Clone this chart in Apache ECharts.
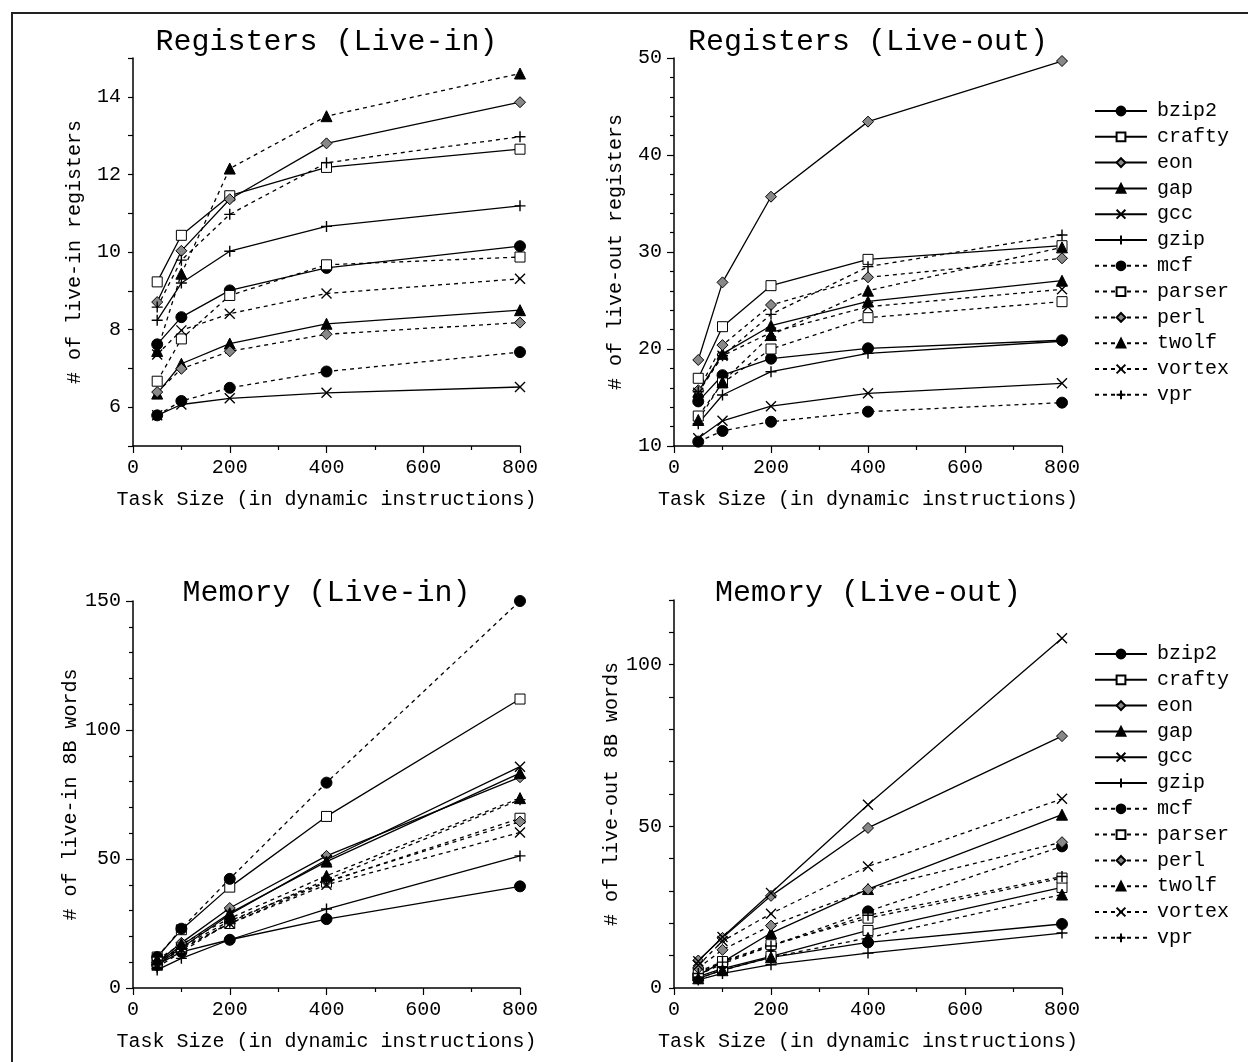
<!DOCTYPE html>
<html>
<head>
<meta charset="utf-8">
<script src="https://cdn.jsdelivr.net/npm/echarts@6/dist/echarts.min.js"></script>
<style>
  html, body { margin: 0; padding: 0; background: #fff; }
  #chart { width: 1248px; height: 1062px; }
</style>
</head>
<body>
<div id="chart"></div>
<script>
// x values (task size)
const taskSizes = [50, 100, 200, 400, 800]
const benchmarks = ['bzip2', 'crafty', 'eon', 'gap', 'gcc', 'gzip', 'mcf', 'parser', 'perl', 'twolf', 'vortex', 'vpr']

// one row per benchmark, same order as above
const regLiveIn = [
  [7.62, 8.32, 9.01, 9.59, 10.15],
  [9.23, 10.43, 11.45, 12.18, 12.65],
  [8.71, 10.03, 11.36, 12.8, 13.86],
  [6.35, 7.12, 7.64, 8.15, 8.5],
  [5.79, 6.07, 6.23, 6.37, 6.52],
  [8.24, 9.2, 10.02, 10.66, 11.19],
  [5.79, 6.16, 6.5, 6.92, 7.42],
  [6.67, 7.76, 8.88, 9.67, 9.87],
  [6.39, 6.99, 7.44, 7.88, 8.18],
  [7.45, 9.44, 12.15, 13.5, 14.6],
  [7.36, 7.98, 8.41, 8.93, 9.31],
  [8.58, 9.79, 10.97, 12.3, 12.97]
]
const regLiveOut = [
  [14.6, 17.3, 19.0, 20.07, 20.9],
  [16.98, 22.3, 26.53, 29.24, 30.65],
  [18.87, 26.87, 35.7, 43.44, 49.69],
  [15.6, 19.5, 22.4, 24.9, 27.04],
  [10.8, 12.6, 14.1, 15.43, 16.46],
  [12.3, 15.26, 17.66, 19.55, 20.8],
  [10.45, 11.55, 12.5, 13.54, 14.47],
  [13.09, 16.5, 20.0, 23.23, 24.88],
  [15.75, 20.4, 24.54, 27.39, 29.35],
  [12.68, 16.6, 21.44, 26.01, 30.48],
  [15.5, 19.3, 21.7, 24.36, 26.15],
  [15.6, 19.3, 23.57, 28.49, 31.75]
]
const memLiveIn = [
  [9, 14, 18.7, 26.7, 39.4],
  [12, 22.6, 39.1, 66.5, 112],
  [10, 17.5, 31, 51.2, 81.7],
  [9.5, 16.5, 29, 49, 83.3],
  [9, 15.5, 28.5, 49.7, 85.8],
  [7, 11.5, 18.7, 30.6, 51.2],
  [12, 23, 42.3, 79.6, 150],
  [10, 15.5, 25, 41, 65.8],
  [10, 16, 26, 41.3, 64.5],
  [11, 17, 27, 43.5, 73.6],
  [9, 15, 25, 40, 60.3],
  [8, 14, 25.5, 42, 73]
]
const memLiveOut = [
  [3, 5.5, 9.5, 14.1, 19.8],
  [3.5, 6, 9.8, 17.8, 31.1],
  [8.5, 15.5, 28.5, 49.5, 77.9],
  [4, 8, 17, 30.6, 53.6],
  [8.3, 15.8, 29.4, 56.7, 108.2],
  [2.5, 4.5, 7.2, 10.8, 17],
  [4, 7.5, 13, 23.7, 43.8],
  [5, 8.2, 13.4, 21.6, 34],
  [6.2, 11.8, 19.3, 30.5, 45.1],
  [3, 5.5, 9.5, 15.5, 28.9],
  [7, 14.5, 23, 37.6, 58.5],
  [4.5, 8, 13, 22.5, 34.5]
]

const FONT = "'Liberation Mono', 'DejaVu Sans Mono', monospace"
const CROSS = 'path://M0,0L10,10M10,0L0,10'
const PLUS = 'path://M5,0L5,10M0,5L10,5'

// marker per benchmark (first six solid, last six dotted)
const markers = [
  { symbol: 'circle', size: 11, fill: '#000' },
  { symbol: 'rect', size: 10, fill: '#fff' },
  { symbol: 'diamond', size: 11, fill: '#888' },
  { symbol: 'triangle', size: 11, fill: '#000' },
  { symbol: CROSS, size: 10, fill: '#000' },
  { symbol: PLUS, size: 11, fill: '#000' }
]

const panels = [
  { data: regLiveIn, left: 133, top: 58, width: 387, height: 388, min: 5, max: 15, interval: 1, labelStep: 2, minor: 0, name: '# of live-in registers' },
  { data: regLiveOut, left: 674, top: 58, width: 388, height: 388, min: 10, max: 50, interval: 10, labelStep: 10, minor: 5, name: '# of live-out registers' },
  { data: memLiveIn, left: 133, top: 601, width: 387, height: 387, min: 0, max: 150, interval: 50, labelStep: 50, minor: 5, name: '# of live-in 8B words' },
  { data: memLiveOut, left: 674, top: 600, width: 388, height: 388, min: 0, max: 120, interval: 10, labelStep: 50, minor: 0, name: '# of live-out 8B words' }
]
const titles = ['Registers (Live-in)', 'Registers (Live-out)', 'Memory (Live-in)', 'Memory (Live-out)']

const axisText = { fontFamily: FONT, fontSize: 20, color: '#000' }

const grid = panels.map(p => ({ left: p.left, top: p.top, width: p.width, height: p.height, containLabel: false }))

const xAxis = panels.map((p, i) => ({
  type: 'value',
  gridIndex: i,
  min: 0,
  max: 800,
  interval: 200,
  name: 'Task Size (in dynamic instructions)',
  nameLocation: 'middle',
  nameGap: 44,
  nameTextStyle: axisText,
  axisLine: { lineStyle: { color: '#000', width: 1.5 } },
  axisTick: { length: 7, lineStyle: { color: '#000', width: 1.2 } },
  minorTick: { show: true, splitNumber: 2, length: 4, lineStyle: { color: '#000', width: 1.2 } },
  axisLabel: { margin: 12, ...axisText },
  splitLine: { show: false }
}))

const yAxis = panels.map((p, i) => ({
  type: 'value',
  gridIndex: i,
  min: p.min,
  max: p.max,
  interval: p.interval,
  name: p.name,
  nameLocation: 'middle',
  nameGap: 48,
  nameTextStyle: axisText,
  axisLine: { show: true, lineStyle: { color: '#000', width: 1.5 } },
  axisTick: { show: true, length: p.minor ? 7 : 5, lineStyle: { color: '#000', width: 1.2 } },
  minorTick: { show: p.minor > 0, splitNumber: p.minor || 5, length: 4, lineStyle: { color: '#000', width: 1.2 } },
  axisLabel: {
    margin: 12,
    ...axisText,
    formatter: v => (Math.round(v) % p.labelStep === 0 && v <= p.max && (p.max % p.labelStep === 0 || v < p.max)) ? String(v) : ''
  },
  splitLine: { show: false }
}))

const series = []
panels.forEach((p, pi) => {
  benchmarks.forEach((name, bi) => {
    const m = markers[bi % 6]
    const dotted = bi >= 6
    series.push({
      type: 'line',
      name: name,
      xAxisIndex: pi,
      yAxisIndex: pi,
      data: taskSizes.map((x, j) => [x, p.data[bi][j]]),
      symbol: m.symbol,
      symbolSize: m.size,
      showAllSymbol: true,
      lineStyle: { color: '#000', width: 1.3, type: dotted ? [4, 4] : 'solid' },
      itemStyle: { color: m.fill, borderColor: '#000', borderWidth: m.symbol.startsWith('path') ? 1.4 : 1 },
      emphasis: { disabled: true },
      silent: true,
      animation: false
    })
  })
})

const legendBase = {
  data: benchmarks,
  orient: 'vertical',
  left: 1089,
  itemWidth: 52,
  itemHeight: 11,
  itemGap: 5.8,
  selectedMode: false,
  textStyle: { fontFamily: FONT, fontSize: 20, color: '#000', padding: [0, 0, 0, 5] }
}

const option = {
  backgroundColor: '#fff',
  animation: false,
  title: titles.map((t, i) => ({
    text: t,
    left: panels[i].left + panels[i].width / 2,
    top: i < 2 ? 27 : 578,
    textAlign: 'center',
    padding: 0,
    textStyle: { fontFamily: FONT, fontSize: 30, fontWeight: 'normal', color: '#000' }
  })),
  legend: [
    { ...legendBase, top: 96 },
    { ...legendBase, top: 639 }
  ],
  grid: grid,
  xAxis: xAxis,
  yAxis: yAxis,
  series: series,
  graphic: [{
    type: 'rect',
    shape: { x: 12, y: 13, width: 1300, height: 1100 },
    style: { fill: 'none', stroke: '#222', lineWidth: 2 },
    silent: true
  }]
}

const chart = echarts.init(document.getElementById('chart'), null, { renderer: 'canvas' })
chart.setOption(option)
</script>
</body>
</html>
